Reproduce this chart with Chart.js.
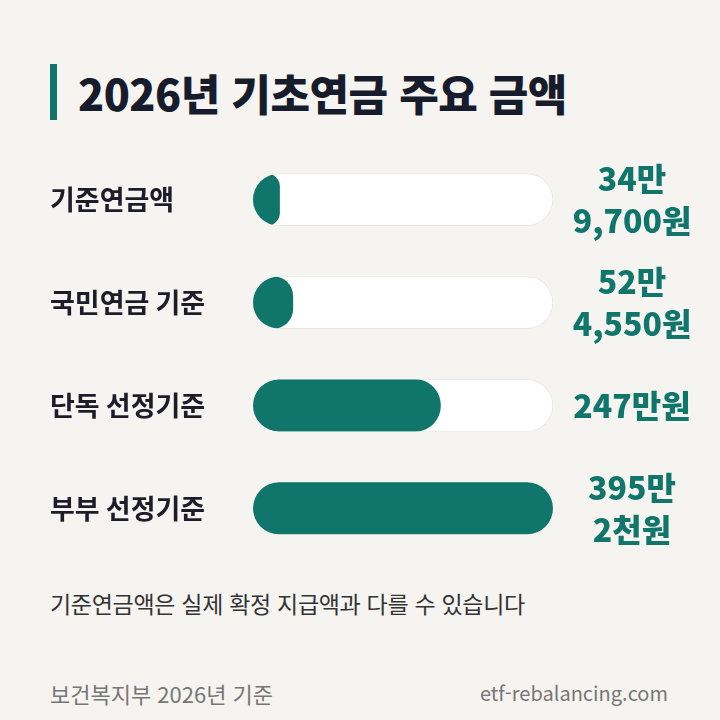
<!DOCTYPE html>
<html lang="ko">
<head>
<meta charset="utf-8">
<script src="https://cdn.jsdelivr.net/npm/chart.js@4"></script>
<style>
  html, body { margin: 0; padding: 0; }
  body {
    width: 720px; height: 720px; position: relative; overflow: hidden;
    background: #f5f4f0;
    font-family: "Noto Sans CJK KR", "Noto Sans", sans-serif;
  }
  .title {
    position: absolute; left: 50px; top: 64px; height: 56px;
    border-left: 7px solid #10766b; padding-left: 21px;
    font-size: 43px; font-weight: 900; line-height: 56px;
    color: #171c2c; letter-spacing: -0.5px;
  }
  #wrap { position: absolute; left: 0; top: 129px; width: 720px; height: 450px; }
  .note { position: absolute; left: 50px; top: 586px; font-size: 23px; color: #333; letter-spacing: -0.3px; }
  .src { position: absolute; left: 50px; top: 677px; font-size: 22px; color: #777; }
  .site { position: absolute; right: 52px; top: 678px; font-size: 20px; color: #777; }
</style>
</head>
<body>
<div class="title">2026년 기초연금 주요 금액</div>
<div id="wrap"><canvas id="pensionChart"></canvas></div>
<div class="note">기준연금액은 실제 확정 지급액과 다를 수 있습니다</div>
<div class="src">보건복지부 2026년 기준</div>
<div class="site">etf-rebalancing.com</div>
<script>
const categories = ["기준연금액", "국민연금 기준", "단독 선정기준", "부부 선정기준"];
const amounts = [349700, 524550, 2470000, 3952000];
const amountLabels = [["34만", "9,700원"], ["52만", "4,550원"], ["247만원"], ["395만", "2천원"]];

const maxAmount = Math.max(...amounts);
const trackValues = categories.map(() => maxAmount);

// clip the filled bars to the white track so small values keep the round left end
const clipToTrack = {
  id: "clipToTrack",
  beforeDatasetDraw(chart, args) {
    if (args.index !== 0) return;
    const ctx = chart.ctx;
    const track = chart.getDatasetMeta(1).data;
    ctx.save();
    ctx.beginPath();
    track.forEach((bar) => {
      const h = bar.height;
      ctx.roundRect(bar.base, bar.y - h / 2, bar.x - bar.base, h, h / 2);
    });
    ctx.clip();
  },
  afterDatasetDraw(chart, args) {
    if (args.index === 0) chart.ctx.restore();
  },
};

const valueText = {
  id: "valueText",
  afterDatasetsDraw(chart) {
    const ctx = chart.ctx;
    const track = chart.getDatasetMeta(1).data;
    ctx.save();
    ctx.font = "900 32px 'Noto Sans CJK KR'";
    ctx.fillStyle = "#10766b";
    ctx.textAlign = "center";
    ctx.textBaseline = "middle";
    track.forEach((bar, i) => {
      const lines = amountLabels[i];
      const lh = 42;
      const start = bar.y - ((lines.length - 1) * lh) / 2;
      lines.forEach((t, j) => ctx.fillText(t, 632, start + j * lh));
    });
    ctx.restore();
  },
};

new Chart(document.getElementById("pensionChart"), {
  type: "bar",
  data: {
    labels: categories,
    datasets: [
      {
        label: "금액",
        data: amounts,
        backgroundColor: "#10766b",
        borderRadius: 26,
        borderSkipped: false,
        barThickness: 52,
        grouped: false,
      },
      {
        label: "track",
        data: trackValues,
        backgroundColor: "#ffffff",
        borderColor: "#e9e8e4",
        borderWidth: 1,
        borderRadius: 26,
        borderSkipped: false,
        barThickness: 52,
        grouped: false,
      },
    ],
  },
  options: {
    indexAxis: "y",
    responsive: true,
    maintainAspectRatio: false,
    animation: false,
    layout: { padding: { left: 50, right: 167, top: 12, bottom: 17 } },
    scales: {
      x: { display: false, min: 0, max: maxAmount },
      y: {
        grid: { display: false },
        border: { display: false },
        afterFit: (scale) => { scale.width = 203; },
        ticks: {
          crossAlign: "far",
          color: "#1c1d28",
          font: { family: "'Noto Sans CJK KR'", size: 27, weight: "bold" },
        },
      },
    },
    plugins: { legend: { display: false }, tooltip: { enabled: false } },
  },
  plugins: [clipToTrack, valueText],
});
</script>
</body>
</html>
